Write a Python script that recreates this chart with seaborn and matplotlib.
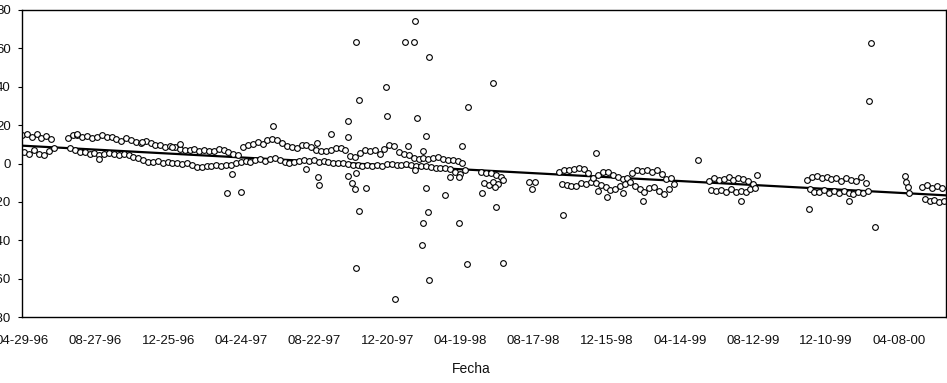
import pandas as pd
import matplotlib
matplotlib.use("Agg")
import matplotlib.pyplot as plt
import seaborn as sns

sns.set_style("white")
plt.rcParams["font.family"] = ["Liberation Sans", "DejaVu Sans"]
plt.rcParams["axes.unicode_minus"] = False

# ---------------- data ----------------
fecha_inicio = "1996-04-29"
paso_dias = 8          # spacing of the dense observations inside each cluster

# dense clusters: first day (offset from fecha_inicio), upper row, lower row
a_dia0 = 0
a_sup = [14.8, 15.6, 13.9, 15.2, 13.1, 14.4, 12.6]
a_inf = [6.0, 4.8, 7.2, 5.1, 4.6, 6.3, 8.1]

b_dia0 = 75
b_sup = [13.5, 14.6, 14.9, 13.8, 14.5, 13.2, 13.9, 14.8, 13.7, 13.9,
         12.8, 11.6, 13.5, 12.4, 11.2, 10.9, 11.6, 10.5, 9.8, 9.5,
         8.7, 9.1, 8.4, 7.6, 7.2, 6.9, 7.3, 6.5, 6.8, 6.3,
         6.6, 7.4, 6.8, 5.9, 5.2, 4.6, 8.6, 9.5, 10.4, 11.0,
         10.2, 12.0, 13.0, 12.2, 10.8, 9.1, 8.4, 8.0, 9.6, 9.9,
         8.7, 7.0, 6.7, 6.4, 7.2, 8.0, 8.3, 7.0, 3.8, 3.2,
         5.6, 6.8, 6.5, 6.9, 5.1, 7.5, 9.6, 8.9, 6.2, 4.8,
         4.2, 3.1, 2.6, 3.0, 2.4, 2.9, 3.3, 2.6, 1.8, 1.9,
         1.2, 0.4]
b_inf = [8.3, 7.0, 6.2, 5.8, 5.0, 5.6, 4.6, 4.9, 5.5, 5.2,
         4.6, 4.9, 4.2, 3.5, 2.8, 1.6, 0.8, 0.6, 1.2, 0.4,
         0.9, 0.3, 0.5, -0.1, 0.4, -0.8, -1.6, -2.0, -1.2, -1.5,
         -0.9, -1.3, -0.7, -1.0, 0.2, 0.9, 1.5, 1.0, 1.6, 2.1,
         1.4, 2.5, 2.8, 1.9, 0.9, 0.3, 0.6, 1.2, 1.8, 1.5,
         1.6, 0.9, 1.1, 0.7, 0.5, 0.1, 0.4, -0.4, -0.9, -0.6,
         -1.2, -0.8, -1.3, -0.9, -1.2, -0.5, -0.3, -0.6, -0.8, -0.4,
         -0.9, -1.1, -1.2, -1.5, -1.8, -2.1, -2.5, -2.2, -2.7, -4.5,
         -5.3, -3.2]

c_dia0 = 754
c_sup = [-4.6, -5.2, -5.0, -6.1, -6.8]
c_inf = [-10.2, -11.0, -9.8, -10.9, -8.6]

d_dia0 = 882
d_sup = [-4.5, -3.6, -3.4, -3.0, -2.6, -3.1, -4.9, -7.8, -6.2, -4.5,
         -4.6, -5.8, -6.9, -8.1, -7.4]
d_inf = [-10.9, -11.4, -11.8, -11.5, -10.4, -10.6, -9.8, -10.2, -11.1, -12.4,
         -13.6, -13.4, -11.9, -10.6, -9.7]

e_dia0 = 1002
e_sup = [-4.8, -3.5, -3.9, -3.2, -4.5, -3.6, -5.6, -8.3, -7.6]
e_inf = [-11.8, -13.2, -14.6, -13.0, -12.4, -14.3, -15.8, -13.1, -10.5]

f_dia0 = 1128
f_sup = [-9.0, -7.6, -8.5, -8.0, -7.2, -8.8, -7.5, -8.2, -9.3, -10.6]
f_inf = [-13.6, -14.5, -13.8, -14.9, -13.4, -15.0, -14.2, -15.1, -13.5, -12.8]

g_dia0 = 1289
g_sup = [-8.5, -6.9, -6.4, -7.6, -7.0, -8.1, -7.3, -8.9, -7.8, -8.6,
         -9.2, -6.8, -10.1]
g_inf = [-13.2, -14.6, -15.0, -13.9, -15.3, -14.4, -15.6, -14.1, -15.2, -16.0,
         -14.8, -15.4, -14.1]

h_dias = [1450, 1452, 1454, 1456]
h_vals = [-6.5, -9.5, -12.5, -15.5]

i_dia0 = 1478
i_sup = [-12.3, -11.0, -12.8, -11.6, -13.0]
i_inf = [-18.5, -19.6, -18.8, -20.1, -19.3]

# isolated observations
atip_dias = [90, 126, 197, 246, 259, 336, 359, 344,
             412, 466, 484, 486, 487, 507, 535, 535, 535, 541, 548, 546,
             548, 549, 554, 554, 564, 597, 599, 613, 628, 633, 643, 645,
             645, 648, 656, 658, 658, 663, 664, 666, 669, 669, 694, 702,
             718, 717, 722, 730, 733, 756, 773, 776, 779, 789, 833, 843,
             838, 889, 943, 945, 961, 987, 1019, 1110, 1181, 1206, 1292,
             1358, 1391, 1394, 1401]
atip_vals = [15.4, 2.3, 11.4, 8.7, 10.0, -15.2, -14.7, -5.5,
             19.5, -2.9, 10.8, -7.0, -11.2, 15.4, 22.1, 13.8, -6.4, -10.3, -5.0, -13.4,
             63.4, -54.6, 33.0, -24.7, -12.8, 40.0, 24.7, -70.6, 63.4, 9.3, 63.4, 74.2,
             -3.4, 23.7, -42.4, 6.7, -31.2, -12.6, 14.3, -25.1, 55.6, -60.7, -16.4, -6.9,
             -6.9, -31.2, 9.3, -52.5, 29.6, -15.2, 41.8, -12.0, -22.5, -52.0, -9.5, -9.5,
             -13.4, -26.8, 5.3, -14.2, -17.3, -15.4, -19.5, 1.8, -19.5, -6.0, -23.5,
             -19.5, 32.7, 62.6, -32.9]

# linear trend
tend_dias = [0, 1517]
tend_vals = [9.3, -16.6]

# axis
etiquetas_x = ["04-29-96", "08-27-96", "12-25-96", "04-24-97", "08-22-97",
               "12-20-97", "04-19-98", "08-17-98", "12-15-98", "04-14-99",
               "08-12-99", "12-10-99", "04-08-00"]
ticks_y = [-80, -60, -40, -20, 0, 20, 40, 60, 80]
dias_fin = 1517

# ---------------- build tables ----------------
t0 = pd.Timestamp(fecha_inicio)
filas = []
for dia0, sup, inf in [(a_dia0, a_sup, a_inf), (b_dia0, b_sup, b_inf),
                       (c_dia0, c_sup, c_inf), (d_dia0, d_sup, d_inf),
                       (e_dia0, e_sup, e_inf), (f_dia0, f_sup, f_inf),
                       (g_dia0, g_sup, g_inf), (i_dia0, i_sup, i_inf)]:
    for k, (vs, vi) in enumerate(zip(sup, inf)):
        d = dia0 + k * paso_dias
        filas.append((d, vs))
        filas.append((d + paso_dias / 2, vi))
for d, v in zip(h_dias, h_vals):
    filas.append((d, v))
filas.sort(key=lambda r: r[0])
for d, v in zip(atip_dias, atip_vals):
    filas.append((d, v))

df = pd.DataFrame(filas, columns=["dia", "valor"])
df["fecha"] = t0 + pd.to_timedelta(df["dia"], unit="D")
df_t = pd.DataFrame({"fecha": t0 + pd.to_timedelta(tend_dias, unit="D"),
                     "valor": tend_vals})

# ---------------- draw ----------------
fig = plt.figure(figsize=(9.47, 3.83), dpi=100)
ax = fig.add_axes([22 / 947, 1 - 317 / 383, 924 / 947, 307 / 383])

sns.lineplot(data=df_t, x="fecha", y="valor", color="black", linewidth=1.6,
             ax=ax, zorder=1)
sns.scatterplot(data=df, x="fecha", y="valor", marker="o", s=17,
                color="white", edgecolor="black", linewidth=0.8,
                ax=ax, zorder=2)

ax.set_xlim(t0, t0 + pd.Timedelta(days=dias_fin))
ax.set_ylim(-80, 80)
ax.set_yticks(ticks_y)
ax.set_yticklabels([str(v) for v in ticks_y])
ax.set_xticks(pd.to_datetime(etiquetas_x, format="%m-%d-%y"))
ax.set_xticklabels(etiquetas_x)

ax.tick_params(axis="y", length=3, width=0.8, pad=5, labelsize=9.5,
               direction="out", left=True, color="black", labelcolor="#111111")
ax.tick_params(axis="x", length=0, pad=13, labelsize=9.5, labelcolor="#111111")

for sp in ax.spines.values():
    sp.set_color("black")
    sp.set_linewidth(1.0)
    sp.set_visible(True)

ax.set_ylabel("")
ax.set_xlabel("Fecha", fontsize=10, color="#111111")
ax.xaxis.set_label_coords((471 - 22) / 924, -0.145)

fig.savefig("out.png", dpi=100)
